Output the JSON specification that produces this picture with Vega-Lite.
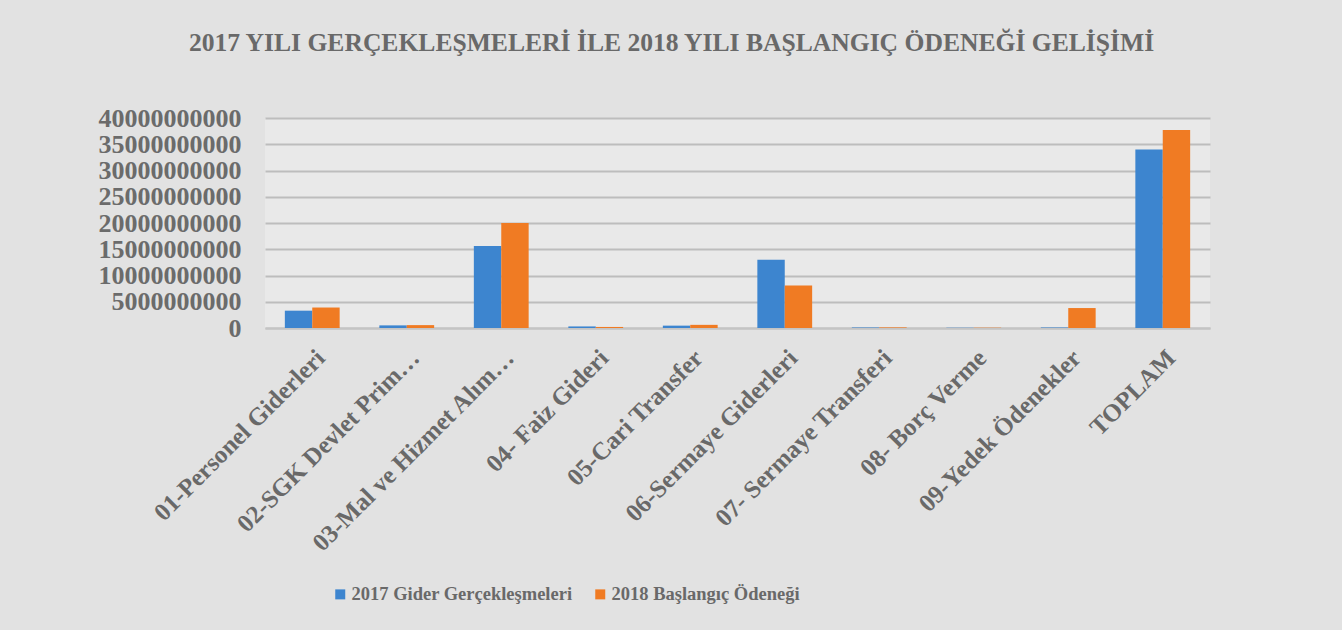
{
  "$schema": "https://vega.github.io/schema/vega-lite/v6.json",
  "autosize": {"type": "none"},
  "width": 945,
  "height": 210,
  "padding": {"left": 265, "top": 118, "right": 132, "bottom": 302},
  "background": "#e2e2e2",
  "title": {
    "text": "2017 YILI GERÇEKLEŞMELERİ İLE 2018 YILI BAŞLANGIÇ ÖDENEĞİ GELİŞİMİ",
    "font": "Liberation Serif",
    "fontSize": 25.6,
    "fontWeight": "bold",
    "color": "#696969",
    "anchor": "middle",
    "offset": 48,
    "dx": -66
  },
  "data": {
    "values": [
      {"kalem": "01-Personel Giderleri", "seri": "2017 Gider Gerçekleşmeleri", "deger": 3300000000},
      {"kalem": "01-Personel Giderleri", "seri": "2018 Başlangıç Ödeneği", "deger": 3900000000},
      {"kalem": "02-SGK Devlet Prim…", "seri": "2017 Gider Gerçekleşmeleri", "deger": 500000000},
      {"kalem": "02-SGK Devlet Prim…", "seri": "2018 Başlangıç Ödeneği", "deger": 550000000},
      {"kalem": "03-Mal ve Hizmet Alım…", "seri": "2017 Gider Gerçekleşmeleri", "deger": 15600000000},
      {"kalem": "03-Mal ve Hizmet Alım…", "seri": "2018 Başlangıç Ödeneği", "deger": 20000000000},
      {"kalem": "04- Faiz Gideri", "seri": "2017 Gider Gerçekleşmeleri", "deger": 300000000},
      {"kalem": "04- Faiz Gideri", "seri": "2018 Başlangıç Ödeneği", "deger": 200000000},
      {"kalem": "05-Cari Transfer", "seri": "2017 Gider Gerçekleşmeleri", "deger": 450000000},
      {"kalem": "05-Cari Transfer", "seri": "2018 Başlangıç Ödeneği", "deger": 600000000},
      {"kalem": "06-Sermaye Giderleri", "seri": "2017 Gider Gerçekleşmeleri", "deger": 13000000000},
      {"kalem": "06-Sermaye Giderleri", "seri": "2018 Başlangıç Ödeneği", "deger": 8100000000},
      {"kalem": "07- Sermaye Transferi", "seri": "2017 Gider Gerçekleşmeleri", "deger": 100000000},
      {"kalem": "07- Sermaye Transferi", "seri": "2018 Başlangıç Ödeneği", "deger": 120000000},
      {"kalem": "08- Borç Verme", "seri": "2017 Gider Gerçekleşmeleri", "deger": 50000000},
      {"kalem": "08- Borç Verme", "seri": "2018 Başlangıç Ödeneği", "deger": 60000000},
      {"kalem": "09-Yedek Ödenekler", "seri": "2017 Gider Gerçekleşmeleri", "deger": 100000000},
      {"kalem": "09-Yedek Ödenekler", "seri": "2018 Başlangıç Ödeneği", "deger": 3800000000},
      {"kalem": "TOPLAM", "seri": "2017 Gider Gerçekleşmeleri", "deger": 34000000000},
      {"kalem": "TOPLAM", "seri": "2018 Başlangıç Ödeneği", "deger": 37700000000}
    ]
  },
  "mark": {"type": "bar", "stroke": null},
  "encoding": {
    "x": {
      "field": "kalem",
      "type": "nominal",
      "sort": null,
      "title": null,
      "scale": {"paddingInner": 0.42, "paddingOuter": 0.21},
      "axis": {
        "labelAngle": -45,
        "labelFont": "Liberation Serif",
        "labelFontSize": 25,
        "labelFontWeight": "bold",
        "labelColor": "#696969",
        "labelPadding": 17,
        "labelDx": -10,
        "labelLimit": 400,
        "ticks": false,
        "domain": true,
        "domainColor": "#c4c4c4",
        "domainWidth": 2,
        "grid": false
      }
    },
    "xOffset": {"field": "seri", "type": "nominal", "sort": null},
    "y": {
      "field": "deger",
      "type": "quantitative",
      "title": null,
      "scale": {"domain": [0, 40000000000], "nice": false},
      "axis": {
        "values": [0, 5000000000, 10000000000, 15000000000, 20000000000, 25000000000, 30000000000, 35000000000, 40000000000],
        "format": "d",
        "labelFont": "Liberation Serif",
        "labelFontSize": 26,
        "labelFontWeight": "bold",
        "labelColor": "#6b6b6b",
        "labelPadding": 24,
        "labelLimit": 300,
        "ticks": false,
        "domain": false,
        "grid": true,
        "gridColor": "#bdbdbd",
        "gridWidth": 2
      }
    },
    "color": {
      "field": "seri",
      "type": "nominal",
      "sort": null,
      "scale": {"range": ["#3d85cf", "#f07b23"]},
      "legend": {
        "title": null,
        "orient": "none",
        "direction": "horizontal",
        "legendX": 66,
        "legendY": 467,
        "symbolType": "square",
        "symbolSize": 100,
        "symbolStrokeWidth": 0,
        "labelFont": "Liberation Serif",
        "labelFontSize": 18.5,
        "labelFontWeight": "bold",
        "labelColor": "#696969",
        "labelOffset": 2,
        "columnPadding": 18,
        "labelLimit": 400
      }
    }
  },
  "config": {
    "font": "Liberation Serif",
    "view": {"fill": "#e9e9e9", "stroke": null}
  }
}
